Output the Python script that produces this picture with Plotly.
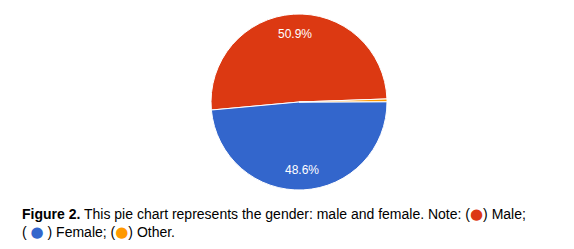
import math
import plotly.graph_objects as go

labels = ["Male", "Female", "Other"]
values = [50.9, 48.6, 0.5]
colors = ["#DC3912", "#3366CC", "#FF9900"]
label_text = ["50.9%", "48.6%", ""]

W, H = 574, 249
cx, cy, r = 299, 102, 88
start_deg = 2.0  # math angle (ccw from 3 o'clock) where the first slice starts
total = sum(values)

fig = go.Figure(go.Pie(
    labels=labels,
    values=values,
    sort=False,
    direction="counterclockwise",
    rotation=90 - start_deg - 360.0 * values[0] / total,
    marker=dict(colors=colors, line=dict(color="white", width=1)),
    textinfo="none",
    showlegend=False,
    hoverinfo="skip",
    domain=dict(x=[(cx - r) / W, (cx + r) / W], y=[(H - cy - r) / H, (H - cy + r) / H]),
))

# percentage labels along slice bisectors, derived from the data
acc = 0.0
for v, t in zip(values, label_text):
    mid = start_deg + 360.0 * (acc + v / 2) / total
    acc += v
    if not t:
        continue
    a = math.radians(mid)
    px = cx + 0.77 * r * math.cos(a)
    py = cy - 0.77 * r * math.sin(a)
    fig.add_annotation(text=t, xref="paper", yref="paper", x=px / W, y=(H - py) / H,
                       xanchor="center", yanchor="middle", showarrow=False,
                       font=dict(family="Liberation Sans, Arial", size=12, color="white"))

dot = "<span style='color:{c};font-family:DejaVu Sans;font-size:15px'>●</span>"
caption = ("<b>Figure 2.</b> This pie chart represents the gender: male and female. Note: ("
           + dot.format(c=colors[0]) + ") Male;<br>"
           "( " + dot.format(c=colors[1]) + " ) Female; ("
           + dot.format(c=colors[2]) + ") Other.")

fig.add_annotation(
    text=caption, xref="paper", yref="paper", x=20 / W, y=(H - 203) / H,
    xanchor="left", yanchor="top", align="left", showarrow=False,
    font=dict(family="Liberation Sans, Arial", size=14, color="black"),
)

fig.update_layout(
    width=W, height=H, margin=dict(l=0, r=0, t=0, b=0),
    paper_bgcolor="white", plot_bgcolor="white",
)

fig.write_html("out.html")
